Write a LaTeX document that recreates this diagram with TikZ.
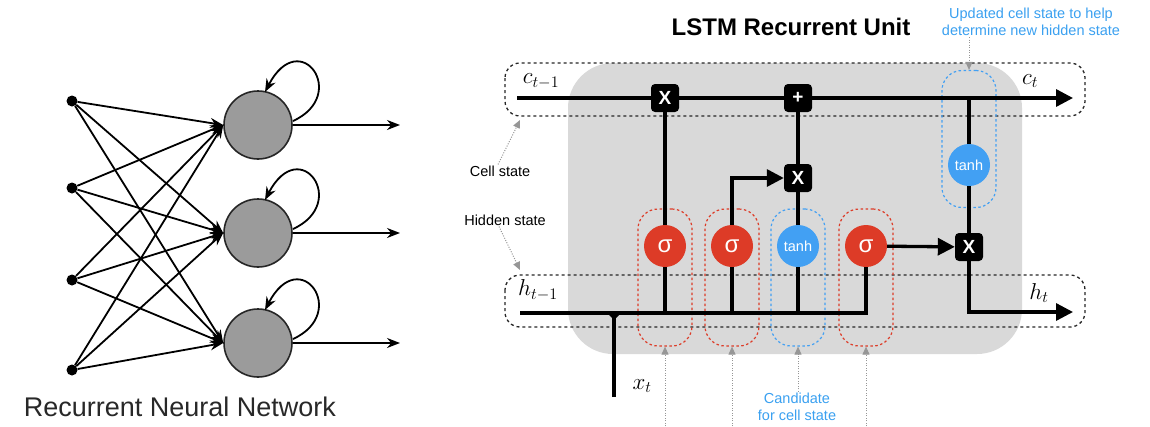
\documentclass[tikz,border=0pt]{standalone}
\usepackage{fix-cm}
\usepackage{fontspec}
\setmainfont{Liberation Sans}
\usetikzlibrary{arrows.meta}
\definecolor{lstmred}{RGB}{221,59,39}
\definecolor{lstmblue}{RGB}{66,160,243}
\definecolor{textblue}{RGB}{58,160,240}
\definecolor{graybg}{RGB}{217,217,217}
\definecolor{pointgray}{RGB}{150,150,150}
\definecolor{neurongray}{RGB}{155,155,155}
\definecolor{darktext}{RGB}{40,40,40}
\begin{document}
\begin{tikzpicture}[x=1pt,y=-1pt,
  indot/.style={circle,fill=black,minimum size=11pt,inner sep=0pt},
  neuron/.style={circle,draw=black!85,line width=1.6pt,fill=neurongray,minimum size=68pt,inner sep=0pt},
  rnnarrow/.style={line width=1.8pt,-{Stealth[length=13pt,width=10pt]}},
  mainline/.style={line width=3.3pt,black},
  bigtip/.style={-{Triangle[length=17pt,width=17pt]}},
  gatecirc/.style={circle,fill=#1,minimum size=42pt,inner sep=0pt,text=white},
  sigmafont/.style={font=\fontsize{24}{24}\selectfont},
  tanhfont/.style={font=\fontsize{14.5}{16}\selectfont},
  opbox/.style={rectangle,rounded corners=4pt,fill=black,minimum size=28pt,inner sep=0pt,text=white,font=\bfseries\fontsize{19}{20}\selectfont},
  gatebox/.style={draw=#1,line width=1.2pt,dash pattern=on 2.5pt off 2.5pt,rounded corners=20pt,minimum width=54pt,minimum height=137pt,inner sep=0pt},
  statebox/.style={draw=black!85,line width=1.3pt,dash pattern=on 3pt off 3pt,rounded corners=15pt},
  pointer/.style={draw=pointgray,line width=1pt,dash pattern=on 1pt off 1.5pt,-{Triangle[length=8pt,width=7pt]}},
  smalltext/.style={font=\fontsize{14.5}{17}\selectfont,align=center,inner sep=1pt},
  mathlabel/.style={font=\fontsize{23}{26}\selectfont,inner sep=0pt}
]
\useasboundingbox (0,0) rectangle (1150,426);

% ---------------- Recurrent Neural Network ----------------
\foreach \i/\y in {1/101,2/188,3/280,4/370}
  \node[indot] (in\i) at (72,\y) {};
\foreach \j/\y in {1/125,2/233,3/343} {
  \node[neuron] (n\j) at (258,\y) {};
  \coordinate (out\j) at (400,\y);
}
\foreach \i in {1,...,4}
  \foreach \j in {1,2,3}
    \draw[rnnarrow] (in\i) -- (n\j.west);
\foreach \j in {1,2,3} {
  \draw[rnnarrow] (n\j) -- (out\j);
  \draw[rnnarrow] ([shift={(35,-4)}]n\j.center) .. controls +(57,-26) and +(35,-67) .. ([shift={(7,-33)}]n\j.center);
}
\node[font=\fontsize{27}{30}\selectfont,text=darktext] (rnnlabel) at (180,407) {Recurrent Neural Network};

% ---------------- LSTM Recurrent Unit ----------------
\node[font=\bfseries\fontsize{24}{28}\selectfont] (title) at (791,27) {LSTM Recurrent Unit};

\fill[graybg,rounded corners=45pt] (568,63) rectangle (1022,354);

\draw[statebox] (505,63) rectangle (1085,116);
\draw[statebox] (505,275) rectangle (1085,327);

% dashed gate boxes
\node[gatebox=lstmred] (fbox) at (665,277.5) {};
\node[gatebox=lstmred] (ibox) at (732,277.5) {};
\node[gatebox=lstmblue] (gbox) at (798,277.5) {};
\node[gatebox=lstmred] (obox) at (866,277.5) {};
\node[gatebox=lstmblue] (tcbox) at (969,139) {};

% gates
\node[gatecirc=lstmred,sigmafont] (f) at (665,246) {σ};
\node[gatecirc=lstmred,sigmafont] (i) at (732,246) {σ};
\node[gatecirc=lstmblue,tanhfont] (g) at (798,246) {tanh};
\node[gatecirc=lstmred,sigmafont] (o) at (866,246) {σ};
\node[gatecirc=lstmblue,tanhfont] (tc) at (969,165) {tanh};

% pointwise operations
\node[opbox] (mulf) at (665,98) {X};
\node[opbox] (add) at (798,98) {+};
\node[opbox] (muli) at (798,178) {X};
\node[opbox] (mulo) at (969,247) {X};

% coordinates
\coordinate (cin) at (517,98);
\coordinate (cout) at (1073,98);
\coordinate (tap) at (969,98);
\coordinate (hin) at (520,313);
\coordinate (hend) at (866,313);
\coordinate (hcorner) at (969,312);
\coordinate (hout) at (1073,312);
\coordinate (xt) at (614,397);
\coordinate (xj) at (614,313);

% cell state line
\draw[mainline] (cin) -- (mulf);
\draw[mainline] (mulf) -- (add);
\draw[mainline,bigtip] (add) -- (cout);
\draw[mainline] (tap) -- (tc);
\draw[mainline] (tc) -- (mulo);
\draw[mainline,bigtip] (mulo) -- (hcorner) -- (hout);

% hidden state line and inputs
\draw[mainline] (hin) -- (hend) -- (o);
\draw[mainline] (xt) -- (xj);
\fill (606,312) -- (622,312) -- (614,320) -- cycle;
\draw[mainline] (f) -- (f |- hin);
\draw[mainline] (i) -- (i |- hin);
\draw[mainline] (g) -- (g |- hin);

% gate outputs
\draw[mainline] (f) -- (mulf);
\draw[mainline,bigtip] (i) |- (muli);
\draw[mainline] (g) -- (muli);
\draw[mainline] (muli) -- (add);
\draw[mainline,bigtip] (o) -- (mulo);

% math labels
\node[mathlabel] (lc1) at (541,81) {$c_{t-1}$};
\node[mathlabel] (lc2) at (1030,81) {$c_{t}$};
\node[mathlabel] (lh1) at (538,290) {$h_{t-1}$};
\node[mathlabel] (lh2) at (1039,293) {$h_{t}$};
\node[mathlabel] (lx) at (642,386) {$x_{t}$};

% annotations
\node[smalltext] (cslabel) at (500,171) {Cell state};
\node[smalltext] (hslabel) at (505,220) {Hidden state};
\node[smalltext,text=textblue] (upd) at (1031,22) {Updated cell state to help\\determine new hidden state};
\node[smalltext,text=textblue] (cand) at (797,407) {Candidate\\for cell state};

\coordinate (csend) at (520,120);
\coordinate (hsend) at (520,270);
\coordinate (pf) at (665,426);
\coordinate (pi) at (732,426);
\coordinate (po) at (866,426);

\draw[pointer] ([xshift=-2pt]cslabel.north) -- (csend);
\draw[pointer] ([xshift=-6pt]hslabel.south) -- (hsend);
\draw[pointer] (upd.south -| tcbox.north) -- (tcbox.north);
\draw[pointer] (cand.north -| gbox.south) -- (gbox.south);
\draw[pointer] (pf) -- (fbox.south);
\draw[pointer] (pi) -- (ibox.south);
\draw[pointer] (po) -- (obox.south);
\end{tikzpicture}
\end{document}
